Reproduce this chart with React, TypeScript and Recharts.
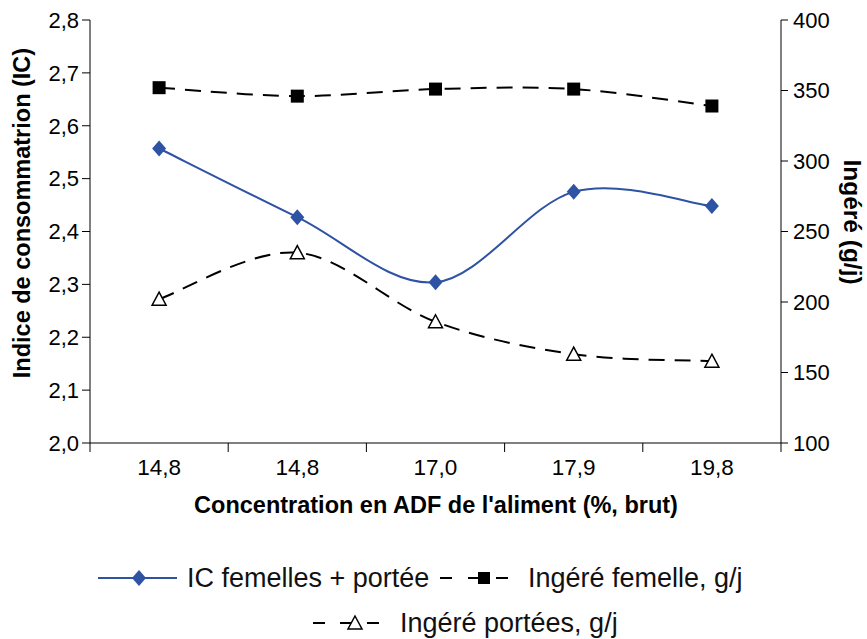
import React from 'react';
import { LineChart, Line, XAxis, YAxis, Legend } from 'recharts';

const categories = ['14,8', '14,8', '17,0', '17,9', '19,8'];
const icFemelles = [2.557, 2.427, 2.304, 2.475, 2.448];
const ingereFemelle = [352, 346, 351, 351, 339];
const ingerePortees = [202, 235, 186, 163, 158];
const leftTicks = [2.0, 2.1, 2.2, 2.3, 2.4, 2.5, 2.6, 2.7, 2.8];
const rightTicks = [100, 150, 200, 250, 300, 350, 400];

const data = categories.map((c, i) => ({
  adf: c,
  ic: icFemelles[i],
  femelle: ingereFemelle[i],
  portees: ingerePortees[i],
}));

const FONT = '"Liberation Sans", Arial, sans-serif';
const BLUE = '#2E52A4';
const W = 867;
const H = 639;
const PLOT_W = 691;
const STEP = PLOT_W / categories.length;

// Excel-like smoothed line (Catmull-Rom through the points)
const excelCurve = (context: any) => {
  let pts: [number, number][] = [];
  return {
    areaStart() {},
    areaEnd() {},
    lineStart() {
      pts = [];
    },
    lineEnd() {
      const n = pts.length;
      if (!n) return;
      context.moveTo(pts[0][0], pts[0][1]);
      for (let i = 0; i < n - 1; i++) {
        const p0 = pts[Math.max(i - 1, 0)];
        const p1 = pts[i];
        const p2 = pts[i + 1];
        const p3 = pts[Math.min(i + 2, n - 1)];
        context.bezierCurveTo(
          p1[0] + (p2[0] - p0[0]) / 6,
          p1[1] + (p2[1] - p0[1]) / 6,
          p2[0] - (p3[0] - p1[0]) / 6,
          p2[1] - (p3[1] - p1[1]) / 6,
          p2[0],
          p2[1]
        );
      }
    },
    point(x: number, y: number) {
      pts.push([+x, +y]);
    },
  };
};

const diamondDot = (p: any) => (
  <path
    key={`d-${p.index}`}
    d={`M${p.cx},${p.cy - 8} L${p.cx + 7},${p.cy} L${p.cx},${p.cy + 8} L${p.cx - 7},${p.cy} Z`}
    fill={BLUE}
  />
);

const squareDot = (p: any) => (
  <rect key={`s-${p.index}`} x={p.cx - 6.5} y={p.cy - 6.5} width={13} height={13} fill="#000" />
);

const triangleDot = (p: any) => (
  <path
    key={`t-${p.index}`}
    d={`M${p.cx},${p.cy - 7} L${p.cx + 7},${p.cy + 6} L${p.cx - 7},${p.cy + 6} Z`}
    fill="#fff"
    stroke="#000"
    strokeWidth={1.5}
  />
);

const XTick = (props: any) => {
  const { x, y, payload, index } = props;
  return (
    <g>
      <line x1={x - STEP / 2} y1={y} x2={x - STEP / 2} y2={y + 9} stroke="#000" />
      {index === categories.length - 1 && (
        <line x1={x + STEP / 2} y1={y} x2={x + STEP / 2} y2={y + 9} stroke="#000" />
      )}
      <text x={x} y={y + 32} textAnchor="middle" fontSize={22.5} fontFamily={FONT} fill="#000">
        {payload.value}
      </text>
    </g>
  );
};

const LegendBox = () => (
  <svg width={W} height={99} style={{ display: 'block' }}>
    <g fontFamily={FONT} fontSize={27} fill="#111">
      <line x1={98} y1={38} x2={177} y2={38} stroke={BLUE} strokeWidth={2} />
      <path d="M139,30 L146,38 L139,46 L132,38 Z" fill={BLUE} />
      <text x={187} y={38} dy="0.35em">IC femelles + portée</text>

      <line x1={440} y1={38} x2={508} y2={38} stroke="#000" strokeWidth={2} strokeDasharray="12 16" />
      <rect x={478} y={32} width={12} height={12} fill="#000" />
      <text x={528} y={38} dy="0.35em">Ingéré femelle, g/j</text>

      <line x1={313} y1={83} x2={380} y2={83} stroke="#000" strokeWidth={2} strokeDasharray="12 15" />
      <path d="M355,76 L362,89 L348,89 Z" fill="#fff" stroke="#000" strokeWidth={1.5} />
      <text x={400} y={83} dy="0.33em">Ingéré portées, g/j</text>
    </g>
  </svg>
);

export default function App() {
  return (
    <div style={{ position: 'relative', width: W, height: H, background: '#fff' }}>
      <style>{`body{margin:0;background:#fff}`}</style>
      <LineChart
        width={W}
        height={H}
        data={data}
        margin={{ top: 20, right: 0, bottom: 126, left: 0 }}
      >
        <XAxis
          dataKey="adf"
          xAxisId="x"
          height={70}
          stroke="#000"
          padding={{ left: STEP / 2, right: STEP / 2 }}
          tickLine={false}
          tickSize={0}
          tickMargin={0}
          tick={<XTick />}
          interval={0}
          label={() => (
            <text
              x={436}
              y={513}
              textAnchor="middle"
              fontSize={23.5}
              fontWeight="bold"
              fontFamily={FONT}
              fill="#000"
            >
              Concentration en ADF de l'aliment (%, brut)
            </text>
          )}
        />
        <YAxis
          yAxisId="left"
          orientation="left"
          width={90}
          domain={[2.0, 2.8]}
          ticks={leftTicks}
          tickFormatter={(v: number) => v.toFixed(1).replace('.', ',')}
          stroke="#000"
          tickSize={8}
          tickMargin={3}
          tick={{ fill: '#000', fontSize: 22, fontFamily: FONT }}
          allowDataOverflow
          label={() => (
            <text
              transform="translate(30,213) rotate(-90)"
              textAnchor="middle"
              fontSize={23.5}
              fontWeight="bold"
              fontFamily={FONT}
              fill="#000"
            >
              Indice de consommatrion (IC)
            </text>
          )}
        />
        <YAxis
          yAxisId="right"
          orientation="right"
          width={86}
          domain={[100, 400]}
          ticks={rightTicks}
          stroke="#000"
          tickSize={7}
          tickMargin={5}
          tick={{ fill: '#000', fontSize: 22, fontFamily: FONT }}
          allowDataOverflow
          label={() => (
            <text
              transform="translate(844,222) rotate(90)"
              textAnchor="middle"
              fontSize={24.5}
              fontWeight="bold"
              fontFamily={FONT}
              fill="#000"
            >
              Ingéré (g/j)
            </text>
          )}
        />
        <Legend
          layout="horizontal"
          verticalAlign="middle"
          align="center"
          wrapperStyle={{ top: 540, left: 0, width: W, height: 99 }}
          content={() => <LegendBox />}
        />
        <Line
          xAxisId="x"
          yAxisId="right"
          dataKey="femelle"
          type={excelCurve as any}
          stroke="#000"
          strokeWidth={2}
          strokeDasharray="16 10"
          dot={squareDot}
          isAnimationActive={false}
        />
        <Line
          xAxisId="x"
          yAxisId="right"
          dataKey="portees"
          type={excelCurve as any}
          stroke="#000"
          strokeWidth={2}
          strokeDasharray="16 10"
          dot={triangleDot}
          isAnimationActive={false}
        />
        <Line
          xAxisId="x"
          yAxisId="left"
          dataKey="ic"
          type={excelCurve as any}
          stroke={BLUE}
          strokeWidth={2}
          dot={diamondDot}
          isAnimationActive={false}
        />
      </LineChart>
    </div>
  );
}
